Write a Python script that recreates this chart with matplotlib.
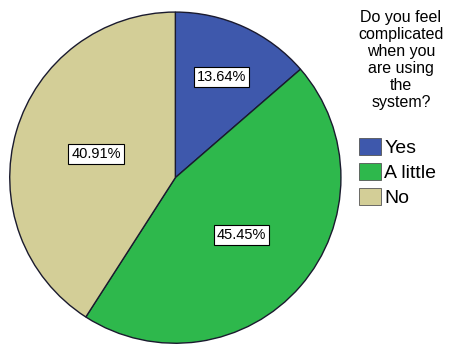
import numpy as np
import matplotlib.pyplot as plt
from matplotlib.patches import Patch

plt.rcParams['font.family'] = ['Liberation Sans', 'DejaVu Sans']

categories = ['Yes', 'A little', 'No']
percents = [13.64, 45.45, 40.91]
colors = ['#3E58AC', '#2EB84C', '#D3CE97']
legend_title = 'Do you feel\ncomplicated\nwhen you\nare using\nthe\nsystem?'

fig = plt.figure(figsize=(4.49, 3.47), dpi=100)
ax = fig.add_axes([0.018, 0.003, 0.745, 0.97])

wedges, texts, autotexts = ax.pie(
    percents, colors=colors, startangle=90, counterclock=False,
    autopct='%.2f%%', pctdistance=0.55,
    wedgeprops=dict(edgecolor='#1a1a2e', linewidth=1.0),
    textprops=dict(fontsize=10.5, color='black'))

# per-slice label distance from centre
label_r = [0.67, 0.53, 0.50]
for w, t, r in zip(wedges, autotexts, label_r):
    ang = np.deg2rad((w.theta1 + w.theta2) / 2)
    t.set_position((r * np.cos(ang), r * np.sin(ang)))
    t.set_bbox(dict(boxstyle='square,pad=0.2', facecolor='white',
                    edgecolor='black', linewidth=0.8))

ax.set_xlim(-1.01, 1.01)
ax.set_ylim(-1.01, 1.01)
ax.set_aspect('equal')

# legend title drawn separately so line spacing / gap match
fig.text(0.893, 0.972, legend_title, ha='center', va='top',
         multialignment='center', fontsize=11.5, linespacing=1.17)

handles = [Patch(facecolor=c, edgecolor='#555555', linewidth=0.6) for c in colors]
leg = fig.legend(handles, categories,
                 loc='upper left', bbox_to_anchor=(0.8, 0.602),
                 frameon=False, fontsize=14,
                 handlelength=1.13, handleheight=0.95, handletextpad=0.15,
                 labelspacing=0.3, borderaxespad=0, borderpad=0)

fig.savefig('out.png', dpi=100)
